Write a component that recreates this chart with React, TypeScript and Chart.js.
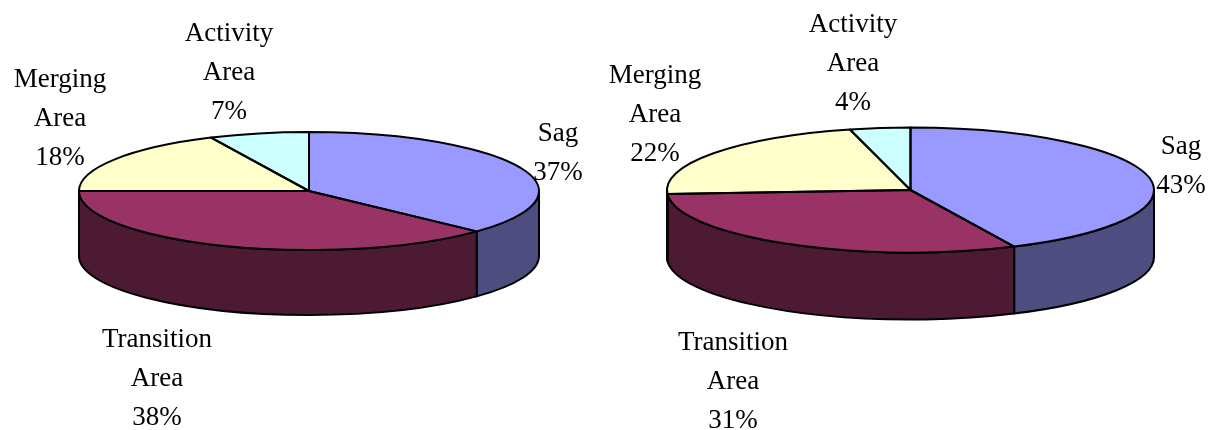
import React, { useEffect, useRef } from "react";
import { Chart, registerables } from "chart.js";

Chart.register(...registerables);

// Slice names, clockwise from twelve o'clock; each is wrapped onto separate lines.
const sliceNames = [["Sag"], ["Transition", "Area"], ["Merging", "Area"], ["Activity", "Area"]];
const leftShares = [37, 38, 18, 7];
const rightShares = [43, 31, 22, 4];

const topColors = ["#9999FF", "#993366", "#FFFFCC", "#CCFFFF"];
const wallColors = ["#4D4D80", "#4D1A33", "#808066", "#668080"];

const FONT = '27px "Liberation Serif"';
const LINE_HEIGHT = 38.8;
const OUTLINE_WIDTH = 2;
const TWO_PI = Math.PI * 2;

type PieLayout = {
  canvasLeft: number;
  width: number;
  padLeft: number;
  padBottom: number;
  radius: number;
  squash: number;
  depth: number;
  // Centre x and first baseline for each slice's caption, in canvas pixels.
  captions: [number, number][];
};

const leftLayout: PieLayout = {
  canvasLeft: 0,
  width: 600,
  padLeft: 18,
  padBottom: 48,
  radius: 230,
  squash: 59 / 230,
  depth: 65,
  captions: [[558, 141], [157, 347], [60, 87], [229, 41]],
};

const rightLayout: PieLayout = {
  canvasLeft: 600,
  width: 611,
  padLeft: 10,
  padBottom: 50,
  radius: 243.5,
  squash: 62.5 / 243.5,
  depth: 67,
  captions: [[581, 154], [133, 350], [55, 83], [253, 32]],
};

// Tilts the flat pie into an ellipse and adds the extruded wall, outlines and captions.
function tiltedPiePlugin(layout: PieLayout, shares: number[]) {
  const { radius, squash, depth } = layout;
  const ry = radius * squash;
  return {
    id: "tiltedPie",
    beforeDatasetsDraw(chart: any) {
      const ctx = chart.ctx;
      const arcs = chart.getDatasetMeta(0).data;
      ctx.save();
      ctx.lineWidth = OUTLINE_WIDTH;
      ctx.strokeStyle = "#000";
      ctx.lineJoin = "round";
      arcs.forEach((arc: any, i: number) => {
        const from = Math.max(arc.startAngle, 0);
        const to = Math.min(arc.endAngle, Math.PI);
        if (to <= from) return;
        ctx.beginPath();
        ctx.ellipse(arc.x, arc.y, radius, ry, 0, from, to);
        ctx.ellipse(arc.x, arc.y + depth, radius, ry, 0, to, from, true);
        ctx.closePath();
        ctx.fillStyle = wallColors[i];
        ctx.fill();
        ctx.stroke();
      });
      ctx.restore();

      const { x, y } = arcs[0];
      ctx.save();
      ctx.translate(x, y);
      ctx.scale(1, squash);
      ctx.translate(-x, -y);
    },
    afterDatasetsDraw(chart: any) {
      const ctx = chart.ctx;
      ctx.restore();
      const arcs = chart.getDatasetMeta(0).data;
      ctx.save();
      ctx.lineWidth = OUTLINE_WIDTH;
      ctx.strokeStyle = "#000";
      ctx.lineJoin = "round";
      arcs.forEach((arc: any) => {
        ctx.beginPath();
        ctx.moveTo(arc.x, arc.y);
        ctx.ellipse(arc.x, arc.y, radius, ry, 0, arc.startAngle, Math.min(arc.endAngle, arc.startAngle + TWO_PI));
        ctx.closePath();
        ctx.stroke();
      });
      ctx.restore();
    },
    afterDraw(chart: any) {
      const ctx = chart.ctx;
      ctx.save();
      ctx.font = FONT;
      ctx.fillStyle = "#000";
      ctx.textAlign = "center";
      ctx.textBaseline = "alphabetic";
      sliceNames.forEach((lines, i) => {
        const [cx, first] = layout.captions[i];
        [...lines, `${shares[i]}%`].forEach((text, row) => {
          ctx.fillText(text, cx, first + row * LINE_HEIGHT);
        });
      });
      ctx.restore();
    },
  };
}

function TiltedPie({ layout, shares }: { layout: PieLayout; shares: number[] }) {
  const ref = useRef<HTMLCanvasElement>(null);
  useEffect(() => {
    const chart = new Chart(ref.current as HTMLCanvasElement, {
      type: "pie",
      data: {
        labels: sliceNames.map((lines) => lines.join(" ")),
        datasets: [
          {
            data: shares,
            backgroundColor: topColors,
            borderWidth: 0,
            radius: layout.radius,
            clip: false,
          } as any,
        ],
      },
      options: {
        responsive: false,
        animation: false,
        layout: { padding: { left: layout.padLeft, bottom: layout.padBottom } },
        plugins: { legend: { display: false }, tooltip: { enabled: false } },
      },
      plugins: [tiltedPiePlugin(layout, shares)],
    });
    return () => chart.destroy();
  }, [layout, shares]);
  return (
    <canvas
      ref={ref}
      width={layout.width}
      height={430}
      style={{ position: "absolute", left: layout.canvasLeft, top: 0, width: layout.width, height: 430 }}
    />
  );
}

export default function App() {
  return (
    <div style={{ position: "fixed", left: 0, top: 0, width: 1211, height: 430, background: "#fff", overflow: "hidden" }}>
      <TiltedPie layout={leftLayout} shares={leftShares} />
      <TiltedPie layout={rightLayout} shares={rightShares} />
    </div>
  );
}
